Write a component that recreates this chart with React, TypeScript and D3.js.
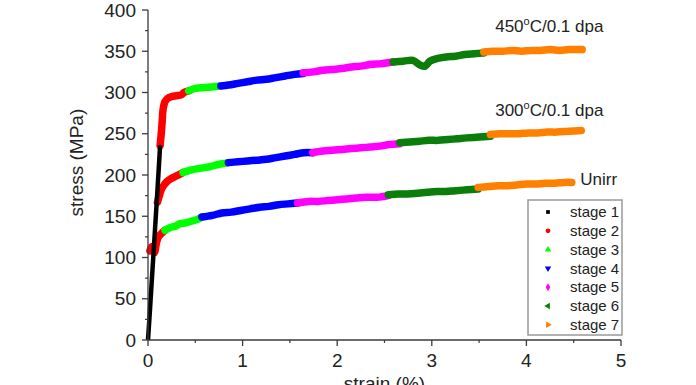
import * as d3 from 'd3'

const W = 696
const H = 385
const MARGIN = { top: 10, right: 75, bottom: 45, left: 148 }

const X_TICKS = [0, 1, 2, 3, 4, 5]
const Y_TICKS = [0, 50, 100, 150, 200, 250, 300, 350, 400]

const STAGE_NAMES = ['stage 1', 'stage 2', 'stage 3', 'stage 4', 'stage 5', 'stage 6', 'stage 7']
const STAGE_COLORS = ['#000000', '#ff0000', '#00ff00', '#0000ff', '#ff00ff', '#0b7d0b', '#ff8000']

// elastic part, shared by all three curves
const stage1 = [[0, 0], [0.02, 35], [0.04, 72], [0.06, 108], [0.08, 145], [0.1, 182], [0.12, 220], [0.128, 236]]

// unirradiated
const unirr2 = [[0.02, 108], [0.04, 113], [0.06, 111], [0.07, 106], [0.09, 118], [0.11, 125], [0.14, 129], [0.18, 133]]
const unirr3 = [[0.18, 133], [0.23, 136], [0.29, 138], [0.34, 141], [0.4, 142], [0.46, 144], [0.52, 146], [0.57, 149]]
const unirr4 = [[0.57, 149], [0.68, 151], [0.78, 154], [0.88, 155], [0.98, 157], [1.08, 159], [1.18, 161], [1.28, 162], [1.38, 164], [1.48, 165], [1.58, 166]]
const unirr5 = [[1.58, 166], [1.7, 168], [1.8, 168], [1.9, 169], [2.0, 170], [2.1, 171], [2.2, 172], [2.3, 173], [2.42, 173], [2.54, 175]]
const unirr6 = [[2.54, 176], [2.65, 177], [2.75, 177], [2.85, 178], [2.95, 179], [3.05, 180], [3.15, 180], [3.25, 181], [3.37, 182], [3.49, 183]]
const unirr7 = [[3.49, 185], [3.6, 186], [3.7, 187], [3.8, 187], [3.9, 188], [4.0, 189], [4.1, 189], [4.2, 190], [4.3, 190], [4.4, 191], [4.48, 191]]

// 300C / 0.1 dpa
const t300_2 = [[0.1, 167], [0.12, 175], [0.14, 182], [0.17, 188], [0.2, 192], [0.25, 196], [0.3, 199], [0.37, 203]]
const t300_3 = [[0.37, 203], [0.45, 206], [0.55, 208], [0.65, 210], [0.75, 213], [0.85, 215]]
const t300_4 = [[0.85, 215], [0.95, 216], [1.05, 217], [1.15, 218], [1.25, 219], [1.35, 221], [1.45, 223], [1.55, 225], [1.65, 227], [1.74, 227]]
const t300_5 = [[1.74, 227], [1.85, 229], [1.95, 230], [2.05, 231], [2.15, 232], [2.25, 233], [2.35, 234], [2.45, 235], [2.55, 237], [2.66, 238]]
const t300_6 = [[2.66, 239], [2.77, 240], [2.87, 241], [2.97, 242], [3.07, 242], [3.17, 243], [3.27, 244], [3.37, 245], [3.5, 246], [3.62, 247]]
const t300_7 = [[3.62, 249], [3.72, 250], [3.82, 250], [3.92, 250], [4.02, 251], [4.12, 251], [4.22, 252], [4.32, 252], [4.45, 253], [4.58, 254]]

// 450C / 0.1 dpa
const t450_2 = [[0.128, 236], [0.14, 250], [0.15, 265], [0.16, 280], [0.18, 289], [0.21, 293], [0.25, 295], [0.3, 296], [0.35, 297], [0.38, 300], [0.43, 302]]
const t450_3 = [[0.43, 302], [0.5, 305], [0.6, 306], [0.7, 307], [0.77, 308]]
const t450_4 = [[0.77, 308], [0.85, 309], [0.95, 311], [1.05, 313], [1.15, 315], [1.25, 316], [1.35, 318], [1.45, 320], [1.55, 322], [1.64, 323]]
const t450_5 = [[1.64, 324], [1.75, 325], [1.85, 327], [1.95, 328], [2.05, 329], [2.15, 331], [2.25, 332], [2.35, 334], [2.47, 335], [2.59, 337]]
const t450_6 = [[2.59, 337], [2.7, 338], [2.8, 339], [2.88, 333], [2.93, 332], [2.98, 338], [3.05, 341], [3.15, 343], [3.25, 344], [3.35, 346], [3.45, 347], [3.55, 348]]
const t450_7 = [[3.55, 349], [3.65, 350], [3.75, 350], [3.85, 351], [3.95, 350], [4.05, 351], [4.15, 351], [4.25, 352], [4.35, 351], [4.45, 352], [4.59, 352]]

const CURVES = [
  [unirr2, unirr3, unirr4, unirr5, unirr6, unirr7],
  [t300_2, t300_3, t300_4, t300_5, t300_6, t300_7],
  [t450_2, t450_3, t450_4, t450_5, t450_6, t450_7],
]

// label anchors in data units (strain, stress)
const LABELS = [
  { text: '450', rest: 'C/0.1 dpa', x: 3.67, y: 373 },
  { text: '300', rest: 'C/0.1 dpa', x: 3.67, y: 272 },
  { text: 'Unirr', rest: '', x: 4.57, y: 188 },
]

const FONT = 'Liberation Sans, Arial, sans-serif'

const SYMBOLS = [
  d3.symbolSquare,
  d3.symbolCircle,
  d3.symbolTriangle,
  d3.symbolTriangle,
  d3.symbolDiamond,
  d3.symbolTriangle,
  d3.symbolTriangle,
]
const SYMBOL_ROT = [0, 0, 0, 180, 0, -90, 90]

export default function App() {
  const x = d3.scaleLinear().domain([0, 5]).range([MARGIN.left, W - MARGIN.right])
  const y = d3.scaleLinear().domain([0, 400]).range([H - MARGIN.bottom, MARGIN.top])

  const line = d3
    .line<number[]>()
    .x((d) => x(d[0]))
    .y((d) => y(d[1]))
    .curve(d3.curveCatmullRom)

  const xMinor = d3.range(0.5, 5, 1)
  const yMinor = d3.range(25, 400, 50)
  const axisColor = '#3a3a3a'
  const textColor = '#222'

  const legendX = 528
  const legendY = 200
  const rowH = 18.8

  return (
    <svg width={W} height={H} style={{ position: 'absolute', left: 0, top: 0, background: '#fff' }}>
      {/* curves */}
      {CURVES.map((stages, ci) =>
        stages.map((pts, si) => (
          <path
            key={`${ci}-${si}`}
            d={line(pts as number[][]) || ''}
            fill="none"
            stroke={STAGE_COLORS[si + 1]}
            strokeWidth={7.5}
            strokeLinecap="round"
            strokeLinejoin="round"
          />
        ))
      )}
      <path
        d={d3.line<number[]>().x((d) => x(d[0])).y((d) => y(d[1]))(stage1 as number[][]) || ''}
        fill="none"
        stroke="#000"
        strokeWidth={4.5}
      />

      {/* axes */}
      <line x1={x(0)} x2={x(0)} y1={y(0)} y2={y(400)} stroke={axisColor} strokeWidth={1.3} />
      <line x1={x(0)} x2={x(5)} y1={y(0)} y2={y(0)} stroke={axisColor} strokeWidth={1.3} />
      {Y_TICKS.map((t) => (
        <g key={`y${t}`}>
          <line x1={x(0) - 6} x2={x(0)} y1={y(t)} y2={y(t)} stroke={axisColor} strokeWidth={1.3} />
          <text x={x(0) - 12} y={y(t)} dy="0.35em" textAnchor="end" fontSize={19} fontFamily={FONT} fill={textColor}>
            {t}
          </text>
        </g>
      ))}
      {yMinor.map((t) => (
        <line key={`ym${t}`} x1={x(0) - 3} x2={x(0)} y1={y(t)} y2={y(t)} stroke={axisColor} strokeWidth={1.2} />
      ))}
      {X_TICKS.map((t) => (
        <g key={`x${t}`}>
          <line x1={x(t)} x2={x(t)} y1={y(0)} y2={y(0) + 6} stroke={axisColor} strokeWidth={1.3} />
          <text x={x(t)} y={y(0) + 27} textAnchor="middle" fontSize={19} fontFamily={FONT} fill={textColor}>
            {t}
          </text>
        </g>
      ))}
      {xMinor.map((t) => (
        <line key={`xm${t}`} x1={x(t)} x2={x(t)} y1={y(0)} y2={y(0) + 3} stroke={axisColor} strokeWidth={1.2} />
      ))}

      <text
        transform={`translate(83,${y(215)}) rotate(-90)`}
        textAnchor="middle"
        fontSize={19}
        fontFamily={FONT}
        fill={textColor}
      >
        stress (MPa)
      </text>
      <text x={x(2.5)} y={390} textAnchor="middle" fontSize={19} fontFamily={FONT} fill={textColor}>
        strain (%)
      </text>

      {/* curve labels */}
      {LABELS.map((l) => (
        <text key={l.text} x={x(l.x)} y={y(l.y)} fontSize={17} fontFamily={FONT} fill={textColor}>
          {l.text}
          {l.rest && (
            <>
              <tspan dy={-7} fontSize={11}>o</tspan>
              <tspan dy={7}>{l.rest}</tspan>
            </>
          )}
        </text>
      ))}

      {/* legend */}
      <rect x={legendX} y={legendY} width={94} height={135} fill="#fff" stroke="#999" strokeWidth={1.5} />
      {STAGE_NAMES.map((name, i) => {
        const cy = legendY + 12 + i * rowH
        return (
          <g key={name}>
            <path
              d={d3.symbol().type(SYMBOLS[i]).size(i === 0 ? 14 : 18)() || ''}
              transform={`translate(${legendX + 20},${cy}) rotate(${SYMBOL_ROT[i]})`}
              fill={STAGE_COLORS[i]}
            />
            <text x={legendX + 42} y={cy} dy="0.35em" fontSize={15} fontFamily={FONT} fill={textColor}>
              {name}
            </text>
          </g>
        )
      })}
    </svg>
  )
}
